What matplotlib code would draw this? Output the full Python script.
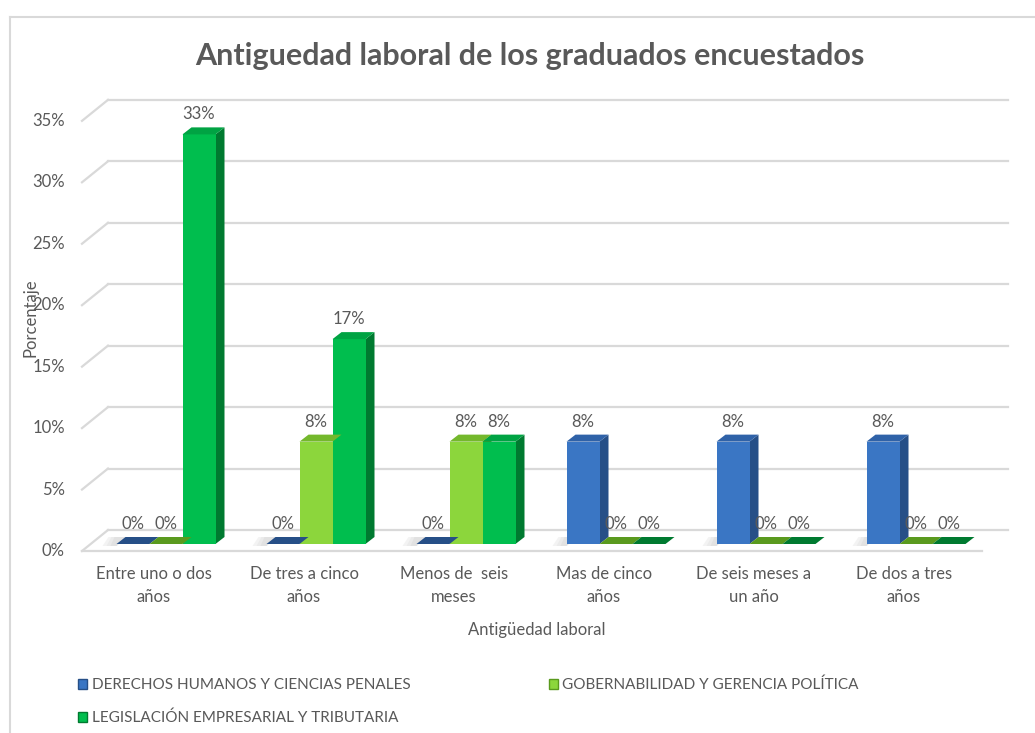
import matplotlib
matplotlib.use("Agg")
import matplotlib.pyplot as plt
from matplotlib.patches import Polygon, Patch
from matplotlib.lines import Line2D
from matplotlib import font_manager

# --- Data ---
categories = ["Entre uno o dos\naños", "De tres a cinco\naños", "Menos de  seis\nmeses",
              "Mas de cinco\naños", "De seis meses a\nun año", "De dos a tres\naños"]
series_names = ["DERECHOS HUMANOS Y CIENCIAS PENALES",
                "GOBERNABILIDAD Y GERENCIA POLÍTICA",
                "LEGISLACIÓN EMPRESARIAL Y TRIBUTARIA"]
derechos = [0, 0, 0, 8.33, 8.33, 8.33]
gobernabilidad = [0, 8.33, 8.33, 0, 0, 0]
legislacion = [33.33, 16.67, 8.33, 0, 0, 0]
y_ticks = [0, 5, 10, 15, 20, 25, 30, 35]

# front / side / top colours per series
front_cols = ["#3A76C4", "#8CD63C", "#00BE4E"]
side_cols = ["#264F87", "#5A9A1E", "#007A30"]
top_cols = ["#2F62A8", "#74B82C", "#00A343"]

names = {f.name for f in font_manager.fontManager.ttflist}
main_font = "Lato" if "Lato" in names else "DejaVu Sans"
plt.rcParams['font.family'] = [main_font, 'DejaVu Sans']
text_col = "#595959"
grid_col = "#D9D9D9"

W, H = 1035, 733
fig = plt.figure(figsize=(W / 100, H / 100), dpi=100)
fig.patch.set_facecolor("white")


def px_box(l, t, r, b):
    return [l / W, 1 - b / H, (r - l) / W, (b - t) / H]


# axes = front plane of the bars
y_max = 35
ax = fig.add_axes(px_box(91, 544 - 35 * 12.29, 991, 544))
ax.set_xlim(-0.5, 5.5)
ax.set_ylim(0, y_max)
ax.axis("off")

# pixel -> data units
kx = 6 / 900
ky = y_max / (35 * 12.29)

# chart frame
fig.add_artist(Line2D([10 / W, 1], [1 - 17 / H, 1 - 17 / H], color=grid_col, lw=1.5))
fig.add_artist(Line2D([10 / W, 10 / W], [1 - 17 / H, 0], color=grid_col, lw=1.5))

# --- 3D style grid: back wall, left wall diagonals, floor front edge ---
bx, by = 17 * kx, 14 * ky      # back wall offset
fx, fy = -9 * kx, -7 * ky      # floor front offset
for v in y_ticks:
    ax.plot([-0.5 + bx, 5.5 + bx], [v + by, v + by], color=grid_col, lw=1.6, clip_on=False, zorder=1)
    ax.plot([-0.5 + fx, -0.5 + bx], [v + fy, v + by], color=grid_col, lw=1.6, clip_on=False, zorder=1)
    ax.annotate(f"{v}%", xy=(-0.5, v), xytext=(-26, -7), textcoords="offset pixels",
                ha="right", va="center", fontsize=12, color=text_col, annotation_clip=False)
ax.plot([-0.5 + fx, 5.5 + fx], [fy, fy], color=grid_col, lw=1.6, clip_on=False, zorder=1)

# --- bars ---
bar_w = 33 / 150
dx, dy = 9 * kx, 7 * ky
series = [derechos, gobernabilidad, legislacion]
for s, vals in enumerate(series):
    xs = [i + (s - 1) * bar_w for i in range(len(categories))]
    # soft shadow on the floor, left of each group
    if s == 0:
        for x in xs:
            l = x - bar_w / 2
            for k, c in enumerate(["#F3F3F3", "#EBEBEB", "#E2E2E2"]):
                ax.add_patch(Polygon([(l - (14 - 4 * k) * kx, -2 * ky), (l, -2 * ky),
                                      (l + dx, dy), (l - (8 - 3 * k) * kx, dy)],
                                     closed=True, fc=c, ec="none", zorder=2, clip_on=False))
    ax.bar(xs, vals, width=bar_w, color=front_cols[s], edgecolor="none", zorder=4)
    for x, v in zip(xs, vals):
        l, r = x - bar_w / 2, x + bar_w / 2
        ax.add_patch(Polygon([(r, 0), (r + dx, dy), (r + dx, v + dy), (r, v)], closed=True,
                             fc=side_cols[s], ec="none", zorder=3, clip_on=False))
        tc = side_cols[s] if v == 0 else top_cols[s]
        ax.add_patch(Polygon([(l, v), (r, v), (r + dx, v + dy), (l + dx, v + dy)], closed=True,
                             fc=tc, ec="none", zorder=5, clip_on=False))
        ax.annotate(f"{round(v)}%", xy=(x, v), xytext=(0, 20), textcoords="offset pixels",
                    ha="center", va="center", fontsize=12, color=text_col, zorder=6)

# category labels
for i, cat in enumerate(categories):
    ax.annotate(cat, xy=(i, 0), xytext=(-12, -22), textcoords="offset pixels",
                ha="center", va="top", fontsize=12, color=text_col, linespacing=1.5,
                annotation_clip=False)

fig.text(537 / W, 1 - 630 / H, "Antigüedad laboral", ha="center", va="center",
         fontsize=12, color=text_col)
fig.text(30 / W, 1 - 318 / H, "Porcentaje", rotation=90, ha="center", va="center",
         fontsize=12, color=text_col)
fig.text(530 / W, 1 - 56 / H, "Antiguedad laboral de los graduados encuestados",
         ha="center", va="center", fontsize=22, fontweight="bold", color=text_col)

# legend (row-major order: D, G / L)
handles = [Patch(fc=front_cols[0], ec=side_cols[0], label=series_names[0]),
           Patch(fc=front_cols[2], ec=side_cols[2], label=series_names[2]),
           Patch(fc=front_cols[1], ec=side_cols[1], label=series_names[1])]
fig.legend(handles=handles, ncol=2, loc="upper left", bbox_to_anchor=(64 / W, 1 - 664 / H),
           frameon=False, handlelength=0.6, handleheight=0.6, handletextpad=0.3,
           columnspacing=9.05, labelspacing=1.2,
           prop={"family": main_font, "size": 11}, labelcolor=text_col)

fig.savefig("out.png", dpi=100, facecolor="white")
